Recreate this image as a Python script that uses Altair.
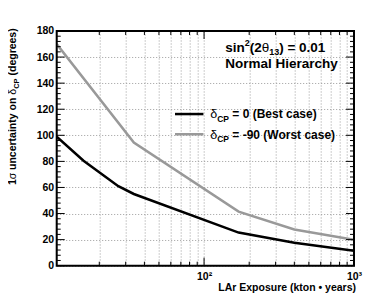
import altair as alt
import pandas as pd

# ---------------- data ----------------
BEST_X = [10.4, 15.7, 26.8, 34, 170, 400, 1000]
BEST_Y = [99, 80.5, 61, 55, 25.4, 17.6, 11.5]
WORST_X = [10.4, 34, 170, 400, 1000]
WORST_Y = [170, 94.5, 41.5, 27.8, 19.8]
SERIES = ["best", "worst"]

X_GRID = [20, 30, 40, 50, 60, 70, 80, 90, 100, 200, 300, 400, 500, 600, 700, 800, 900, 1000]
X_MAJOR = [100]
Y_MAJOR = [0, 20, 40, 60, 80, 100, 120, 140, 160, 180]
Y_MINOR = [v for v in range(0, 181, 4) if v % 20 != 0]

# legend sample segments (data coordinates)
LEG_X = [64.0, 64.0]
LEG_X2 = [99.0, 99.0]
LEG_Y = [116.3, 100.8]
LEG_TXT_X = 110.0
LEG_TXT_Y = [112.9, 97.5]
ANN_X = 138.4
ANN_Y = [164.0, 151.5]

FONT = "Liberation Sans"
W, H = 297.3, 234.7

# Arial/Liberation Sans Bold advance widths (1/1000 em)
BOLD = {" ": 278, "(": 333, ")": 333, "=": 584, "-": 333, ".": 278, "•": 350,
        "a": 556, "c": 556, "d": 611, "e": 556, "g": 611, "h": 611, "i": 278, "k": 556,
        "l": 278, "m": 889, "n": 611, "o": 611, "p": 611, "r": 389, "s": 556, "t": 333,
        "u": 611, "x": 556, "y": 556, "A": 722, "B": 722, "C": 722, "E": 667, "H": 722,
        "L": 611, "N": 722, "P": 667, "W": 944}
NORMAL = {"σ": 600, "δ": 556, "θ": 556}


def tw(s, fs, weight):
    tot = 0
    for ch in s:
        if ch.isdigit():
            tot += 556
        elif weight == "normal" and ch in NORMAL:
            tot += NORMAL[ch]
        else:
            tot += BOLD.get(ch, NORMAL.get(ch, 556))
    return tot / 1000 * fs


one = pd.DataFrame({"k": [0]})

xscale = alt.Scale(type="log", domain=[10.4, 1000], nice=False)
yscale = alt.Scale(domain=[0, 180], nice=False)

xaxis = alt.Axis(values=X_GRID, grid=True, gridColor="#9c9c9c", gridDash=[1, 2], gridWidth=1,
                 ticks=False, domain=False, labelFlush=False, labelOverlap=False,
                 labelExpr="datum.value == 100 ? '10²' : (datum.value == 1000 ? '10³' : '')",
                 labelFont=FONT, labelFontSize=10.5, labelFontWeight="bold", labelColor="black",
                 labelPadding=6,
                 title="LAr Exposure (kton • years)", titleFont=FONT, titleFontSize=10.5,
                 titleFontWeight="bold", titleColor="black", titleAlign="right",
                 titleBaseline="alphabetic", titleX=W + 1.5, titleY=25)
yaxis = alt.Axis(values=Y_MAJOR, grid=True, gridColor="#9c9c9c", gridDash=[1, 2], gridWidth=1,
                 ticks=False, domain=False, labelOverlap=False, labelFlush=False,
                 labelFont=FONT, labelFontSize=10.5,
                 labelFontWeight="bold", labelColor="black", labelPadding=3, title=None)


def composite(pieces, x_enc, y_enc, angle=None):
    layers = []
    off = 0.0
    for text, fs, shift, weight in pieces:
        lead = len(text) - len(text.lstrip(" "))
        trail = len(text) - len(text.rstrip(" "))
        off += tw(" " * lead, fs, "bold")
        core = text.strip(" ")
        kw = dict(text=core, fontSize=fs, fontWeight=weight, font=FONT, align="left",
                  baseline="alphabetic", dx=off, dy=shift, color="black")
        if angle is not None:
            kw["angle"] = angle
        layers.append(alt.Chart(one).mark_text(**kw).encode(x=x_enc, y=y_enc))
        off += tw(core, fs, weight) + tw(" " * trail, fs, "bold")
    return layers


lines_df = pd.concat([
    pd.DataFrame({"x": BEST_X, "y": BEST_Y, "s": SERIES[0]}),
    pd.DataFrame({"x": WORST_X, "y": WORST_Y, "s": SERIES[1]}),
])
cscale = alt.Scale(domain=SERIES, range=["#000000", "#999999"])

lines = alt.Chart(lines_df).mark_line(strokeWidth=2.5, clip=True).encode(
    x=alt.X("x:Q", scale=xscale, axis=xaxis),
    y=alt.Y("y:Q", scale=yscale, axis=yaxis),
    color=alt.Color("s:N", scale=cscale, legend=None),
)

ymaj = pd.DataFrame({"v": Y_MAJOR})
ymin = pd.DataFrame({"v": Y_MINOR})
xmin_df = pd.DataFrame({"v": [v for v in X_GRID if v not in X_MAJOR and v != 1000]})
xmaj_df = pd.DataFrame({"v": X_MAJOR})

ticks = []
for df, ln in ((ymaj, 8), (ymin, 4)):
    ticks.append(alt.Chart(df).mark_rule(color="black", strokeWidth=1).encode(
        y=alt.Y("v:Q", scale=yscale, axis=yaxis), x=alt.value(0), x2=alt.value(ln)))
    ticks.append(alt.Chart(df).mark_rule(color="black", strokeWidth=1).encode(
        y=alt.Y("v:Q", scale=yscale, axis=yaxis), x=alt.value(W - ln), x2=alt.value(W)))
for df, ln in ((xmin_df, 4), (xmaj_df, 8)):
    ticks.append(alt.Chart(df).mark_rule(color="black", strokeWidth=1).encode(
        x=alt.X("v:Q", scale=xscale, axis=xaxis), y=alt.value(H), y2=alt.value(H - ln)))
    ticks.append(alt.Chart(df).mark_rule(color="black", strokeWidth=1).encode(
        x=alt.X("v:Q", scale=xscale, axis=xaxis), y=alt.value(0), y2=alt.value(ln)))

frame = alt.Chart(one).mark_rect(fill=None, fillOpacity=0, stroke="black", strokeWidth=2).encode(
    x=alt.value(0), x2=alt.value(W), y=alt.value(0), y2=alt.value(H))

leg_df = pd.DataFrame({"x": LEG_X, "x2": LEG_X2, "y": LEG_Y, "s": SERIES})
legend_lines = alt.Chart(leg_df).mark_rule(strokeWidth=2.5).encode(
    x=alt.X("x:Q", scale=xscale, axis=xaxis), x2="x2:Q", y=alt.Y("y:Q", scale=yscale, axis=yaxis),
    color=alt.Color("s:N", scale=cscale, legend=None),
)

texts = []
# legend entries
for label, ty in ((" = 0 (Best case)", LEG_TXT_Y[0]), (" = -90 (Worst case)", LEG_TXT_Y[1])):
    texts += composite([("δ", 12.5, 0, "normal"), ("CP", 8.5, 3.5, "bold"), (label, 12, 0, "bold")],
                       alt.XDatum(LEG_TXT_X, scale=xscale, axis=xaxis),
                       alt.YDatum(ty, scale=yscale, axis=yaxis))
# annotations
texts += composite([("sin", 13.5, 0, "bold"), ("2", 9, -5.5, "bold"), ("(2", 13.5, 0, "bold"),
                    ("θ", 13.5, 0, "normal"), ("13", 9, 3.5, "bold"), (") = 0.01", 13.5, 0, "bold")],
                   alt.XDatum(ANN_X, scale=xscale, axis=xaxis), alt.YDatum(ANN_Y[0], scale=yscale, axis=yaxis))
texts += composite([("Normal Hierarchy", 13.5, 0, "bold")],
                   alt.XDatum(ANN_X, scale=xscale, axis=xaxis), alt.YDatum(ANN_Y[1], scale=yscale, axis=yaxis))
# rotated y-axis title
texts += composite([("1", 10.5, 0, "bold"), ("σ", 10.5, 0, "normal"), (" uncertainty on ", 10.5, 0, "bold"),
                    ("δ", 10.5, 0, "normal"), ("CP", 7.5, 3, "bold"), (" (degrees)", 10.5, 0, "bold")],
                   alt.value(-40.5), alt.value(154), angle=270)

chart = alt.layer(lines, *ticks, frame, legend_lines, *texts).properties(
    width=W, height=H,
    autosize=alt.AutoSizeParams(type="none"),
    padding={"left": 48.7, "top": 23, "right": 10, "bottom": 28},
).configure_view(stroke=None).configure(background="white")

chart.save("out.html", embed_options={"renderer": "svg", "actions": False})
